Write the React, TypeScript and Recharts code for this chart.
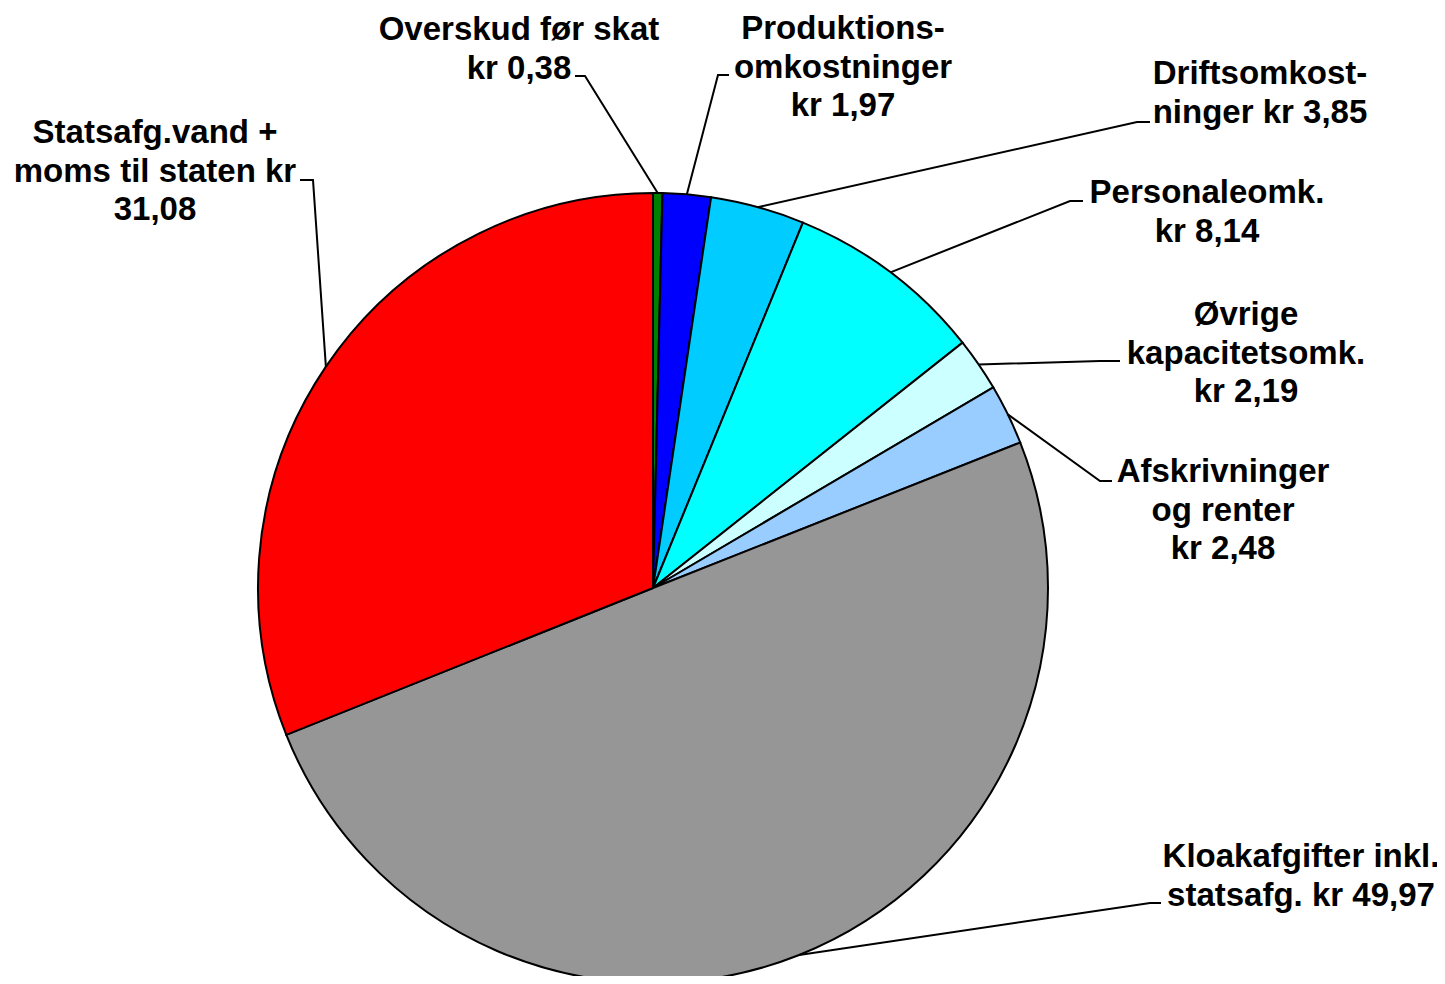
import { PieChart, Pie, Cell } from "recharts";

const categories = [
  "Overskud før skat",
  "Produktionsomkostninger",
  "Driftsomkostninger",
  "Personaleomk.",
  "Øvrige kapacitetsomk.",
  "Afskrivninger og renter",
  "Kloakafgifter inkl. statsafg.",
  "Statsafg.vand + moms til staten"
];

const values = [0.38, 1.97, 3.85, 8.14, 2.19, 2.48, 49.97, 31.08];

const colors = [
  "#008000",
  "#0000FF",
  "#00CCFF",
  "#00FFFF",
  "#CCFFFF",
  "#99CCFF",
  "#969696",
  "#FF0000"
];

// label text, {v} is replaced with the value
const labelLines = [
  ["Overskud før skat", "kr {v}"],
  ["Produktions-", "omkostninger", "kr {v}"],
  ["Driftsomkost-", "ninger kr {v}"],
  ["Personaleomk.", "kr {v}"],
  ["Øvrige", "kapacitetsomk.", "kr {v}"],
  ["Afskrivninger", "og renter", "kr {v}"],
  ["Kloakafgifter inkl.", "statsafg. kr {v}"],
  ["Statsafg.vand +", "moms til staten kr", "{v}"]
];

// layout of the labels: elbow of leader line, end of horizontal stub, text centre, first baseline
const labelLayout = [
  { ex: 585, ey: 76, sx: 575, tx: 519, ty: 40 },
  { ex: 718, ey: 75, sx: 729, tx: 843, ty: 39 },
  { ex: 1137, ey: 122, sx: 1150, tx: 1260, ty: 84 },
  { ex: 1070, ey: 201, sx: 1083, tx: 1207, ty: 203 },
  { ex: 1100, ey: 361, sx: 1120, tx: 1246, ty: 325 },
  { ex: 1100, ey: 481, sx: 1112, tx: 1223, ty: 482 },
  { ex: 1150, ey: 903, sx: 1161, tx: 1301, ty: 867 },
  { ex: 313, ey: 180, sx: 300, tx: 155, ty: 143 }
];

const data = categories.map((name, i) => ({ name, value: values[i] }));

const fmt = (v: number) => v.toFixed(2).replace(".", ",");

const RAD = Math.PI / 180;

function renderLabel(props: any) {
  const { cx, cy, midAngle, outerRadius, index } = props;
  const lay = labelLayout[index];
  const px = cx + outerRadius * Math.cos(-midAngle * RAD);
  const py = cy + outerRadius * Math.sin(-midAngle * RAD);
  const lines = labelLines[index].map((l) => l.replace("{v}", fmt(values[index])));
  return (
    <g key={"lbl" + index}>
      <polyline
        points={`${px},${py} ${lay.ex},${lay.ey} ${lay.sx},${lay.ey}`}
        fill="none"
        stroke="#000"
        strokeWidth={2}
      />
      <text
        x={lay.tx}
        y={lay.ty}
        textAnchor="middle"
        fontFamily="Arial, 'Liberation Sans', sans-serif"
        fontWeight="bold"
        fontSize={33}
        fill="#000"
      >
        {lines.map((l, j) => (
          <tspan key={j} x={lay.tx} y={lay.ty + j * 38.5}>
            {l}
          </tspan>
        ))}
      </text>
    </g>
  );
}

export default function App() {
  return (
    <div style={{ width: 1445, height: 984, background: "#fff", margin: -8 }}>
      <PieChart width={1445} height={984} margin={{ top: 0, right: 0, bottom: 0, left: 0 }}>
        <Pie
          data={data}
          dataKey="value"
          nameKey="name"
          cx={653}
          cy={588}
          outerRadius={395}
          startAngle={90}
          endAngle={-270}
          stroke="#000"
          strokeWidth={2}
          label={renderLabel}
          labelLine={false}
          isAnimationActive={false}
        >
          {data.map((d, i) => (
            <Cell key={d.name} fill={colors[i]} />
          ))}
        </Pie>
      </PieChart>
    </div>
  );
}
